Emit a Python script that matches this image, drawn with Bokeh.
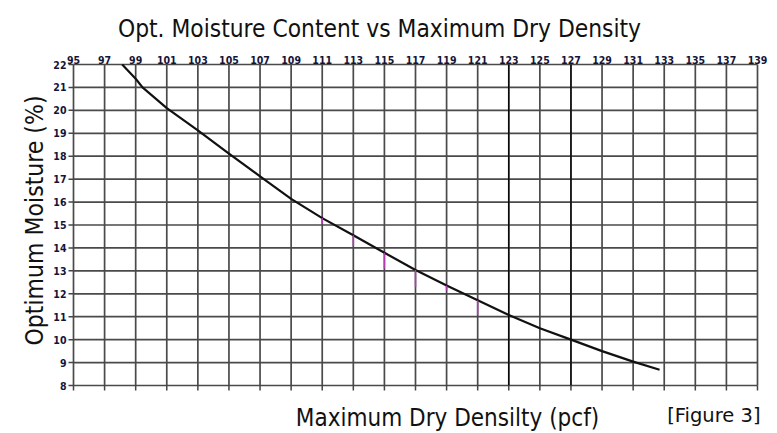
import math
from bokeh.plotting import figure
from bokeh.models import Range1d
from bokeh.core.properties import value
from bokeh.embed import file_html
from bokeh.resources import INLINE

# ---------------- Data ----------------
density = [98.13, 99.0, 99.44, 101.0, 103.0, 105.0, 107.0, 109.0, 111.0, 113.0, 115.0,
           117.0, 119.0, 121.0, 123.0, 125.0, 127.0, 129.0, 131.0, 132.7]
moisture = [22.0, 21.38, 21.0, 20.1, 19.13, 18.11, 17.12, 16.14, 15.3, 14.55, 13.79,
            13.04, 12.36, 11.72, 11.07, 10.5, 10.0, 9.5, 9.04, 8.69]

x_ticks = list(range(95, 140, 2))
x_tick_labels = [str(v) for v in x_ticks]
y_ticks = list(range(8, 23))
y_tick_labels = [str(v) for v in y_ticks]
dark_grid = [123, 127]

# small purple marks below the curve (scan artefacts)
mark_x = [111, 113, 115, 117, 119, 121]
mark_top = [15.3, 14.55, 13.79, 13.04, 12.36, 11.71]
mark_bot = [15.05, 14.07, 13.1, 12.29, 12.14, 11.07]

title_text = "Opt. Moisture Content vs Maximum Dry Density"
x_label = "Maximum Dry Densilty (pcf)"
y_label = "Optimum Moisture (%)"
fig_label = "[Figure 3]"

# ---------------- Layout (page pixels) ----------------
W, H = 777, 433
PX_LEFT, PX_RIGHT = 73, 757      # x = 95 .. 139
PX_TOP, PX_BOTTOM = 64, 385      # y = 22 .. 8
XMIN, XMAX = x_ticks[0], x_ticks[-1]
YMIN, YMAX = y_ticks[0], y_ticks[-1]
kx = (PX_RIGHT - PX_LEFT) / (XMAX - XMIN)
ky = (PX_BOTTOM - PX_TOP) / (YMAX - YMIN)


def dx(px):
    return XMIN + (px - PX_LEFT) / kx


def dy(py):
    return YMAX - (py - PX_TOP) / ky


TXT = "#141438"
FONT = "DejaVu Sans Condensed"
GRID = "#4a4a4a"

p = figure(width=W, height=H, output_backend="svg", toolbar_location=None,
           x_range=Range1d(dx(0), dx(W)), y_range=Range1d(dy(H), dy(0)),
           x_axis_location=None, y_axis_location=None,
           min_border_left=0, min_border_right=0, min_border_top=0, min_border_bottom=0)
p.outline_line_color = None
p.background_fill_color = "white"
p.border_fill_color = "white"
p.xgrid.grid_line_color = None
p.ygrid.grid_line_color = None

# Grid lines
p.segment(x0=[XMIN] * len(y_ticks), y0=y_ticks, x1=[XMAX] * len(y_ticks), y1=y_ticks,
          line_color=GRID, line_width=1.7)
p.segment(x0=x_ticks, y0=[YMIN] * len(x_ticks), x1=x_ticks, y1=[YMAX] * len(x_ticks),
          line_color=GRID, line_width=1.7)
p.segment(x0=dark_grid, y0=[YMIN] * len(dark_grid), x1=dark_grid, y1=[YMAX] * len(dark_grid),
          line_color="#000000", line_width=1.3)

# Tick marks (bottom and left, outward)
p.segment(x0=x_ticks, y0=[YMIN] * len(x_ticks), x1=x_ticks, y1=[dy(PX_BOTTOM + 5)] * len(x_ticks),
          line_color="#444444", line_width=1.5)
p.segment(x0=[XMIN] * len(y_ticks), y0=y_ticks, x1=[dx(PX_LEFT - 5)] * len(y_ticks), y1=y_ticks,
          line_color="#444444", line_width=1.5)

# Tick labels
p.text(x=x_ticks, y=[dy(59)] * len(x_ticks), text=x_tick_labels,
       text_font=value(FONT), text_font_size="10.5px", text_font_style="bold",
       text_color=TXT, text_align="center", text_baseline="alphabetic")
p.text(x=[dx(66)] * len(y_ticks), y=y_ticks, text=y_tick_labels,
       text_font=value(FONT), text_font_size="10.5px", text_font_style="bold",
       text_color=TXT, text_align="right", text_baseline="middle")

# Curve
p.line(density, moisture, line_color="#111111", line_width=2.2, line_join="round")
p.segment(x0=mark_x, y0=mark_top, x1=mark_x, y1=mark_bot, line_color="#b03cb0", line_width=1.5)

# Title and axis labels
p.text(x=[dx(379)], y=[dy(28)], text=[title_text], text_font=value(FONT), text_font_size="24.3px",
       text_color="#111111", text_align="center", text_baseline="alphabetic")
p.text(x=[dx(447)], y=[dy(417)], text=[x_label], text_font=value(FONT), text_font_size="24px",
       text_color="#111111", text_align="center", text_baseline="alphabetic")
p.text(x=[dx(34)], y=[dy(220)], text=[y_label], text_font=value(FONT), text_font_size="24.5px",
       text_color="#111111", text_align="center", text_baseline="middle", angle=math.pi / 2)
p.text(x=[dx(760)], y=[dy(415)], text=[fig_label], text_font=value("DejaVu Sans"),
       text_font_size="19.5px", text_color="#111111", text_align="right",
       text_baseline="alphabetic")

open("out.html", "w").write(file_html(p, INLINE))
